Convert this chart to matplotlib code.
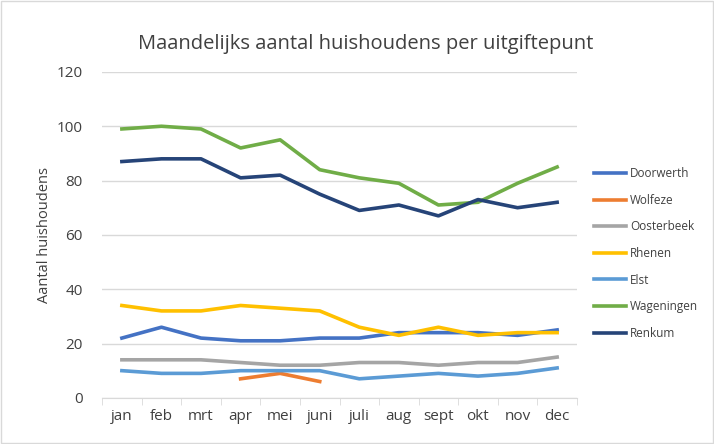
import numpy as np
import matplotlib.pyplot as plt

months = ['jan', 'feb', 'mrt', 'apr', 'mei', 'juni', 'juli', 'aug', 'sept', 'okt', 'nov', 'dec']

doorwerth = [22, 26, 22, 21, 21, 22, 22, 24, 24, 24, 23, 25]
wolfeze = [np.nan, np.nan, np.nan, 7, 9, 6, np.nan, np.nan, np.nan, np.nan, np.nan, np.nan]
oosterbeek = [14, 14, 14, 13, 12, 12, 13, 13, 12, 13, 13, 15]
rhenen = [34, 32, 32, 34, 33, 32, 26, 23, 26, 23, 24, 24]
elst = [10, 9, 9, 10, 10, 10, 7, 8, 9, 8, 9, 11]
wageningen = [99, 100, 99, 92, 95, 84, 81, 79, 71, 72, 79, 85]
renkum = [87, 88, 88, 81, 82, 75, 69, 71, 67, 73, 70, 72]

series = [
    ('Doorwerth', doorwerth, '#4472C4'),
    ('Wolfeze', wolfeze, '#ED7D31'),
    ('Oosterbeek', oosterbeek, '#A5A5A5'),
    ('Rhenen', rhenen, '#FFC000'),
    ('Elst', elst, '#5B9BD5'),
    ('Wageningen', wageningen, '#70AD47'),
    ('Renkum', renkum, '#264478'),
]

plt.rcParams['font.family'] = ['Open Sans', 'DejaVu Sans']

fig = plt.figure(figsize=(7.14, 4.44), dpi=100)
ax = fig.add_axes([0.143, 0.104, 0.665, 0.734])

x = np.arange(len(months))
for name, vals, color in series:
    ax.plot(x, vals, color=color, lw=2.6, label=name, solid_joinstyle='round')

ax.set_xlim(-0.5, len(months) - 0.5)
ax.set_ylim(0, 120)
ax.set_yticks(range(0, 121, 20))
ax.yaxis.grid(True, color='#D9D9D9', lw=1)
ax.set_axisbelow(True)
for s in ['top', 'right', 'left']:
    ax.spines[s].set_visible(False)
ax.spines['bottom'].set_color('#D9D9D9')

ax.set_xticks(x)
ax.set_xticklabels(months)
ax.set_xticks(np.arange(-0.5, len(months)), minor=True)
ax.tick_params(axis='x', which='major', length=0, pad=8, labelsize=11, labelcolor='#404040')
ax.tick_params(axis='x', which='minor', length=5, color='#D9D9D9')
ax.tick_params(axis='y', length=0, pad=14, labelsize=11, labelcolor='#404040')

ax.set_ylabel('Aantal huishoudens', fontsize=10.5, color='#404040', labelpad=3)
fig.text(0.512, 0.9, 'Maandelijks aantal huishoudens per uitgiftepunt',
         ha='center', va='center', fontsize=14.5, color='#404040')

ax.legend(loc='upper left', bbox_to_anchor=(0.826, 0.634), bbox_transform=fig.transFigure,
          frameon=False, fontsize=8.5, handlelength=2.7, handletextpad=0.3,
          labelspacing=1.15, labelcolor='#404040', borderaxespad=0)

fig.patches.append(plt.Rectangle((0.002, 0.002), 0.996, 0.996, transform=fig.transFigure,
                                 fill=False, edgecolor='#D9D9D9', lw=1))

fig.savefig('out.png', dpi=100)
